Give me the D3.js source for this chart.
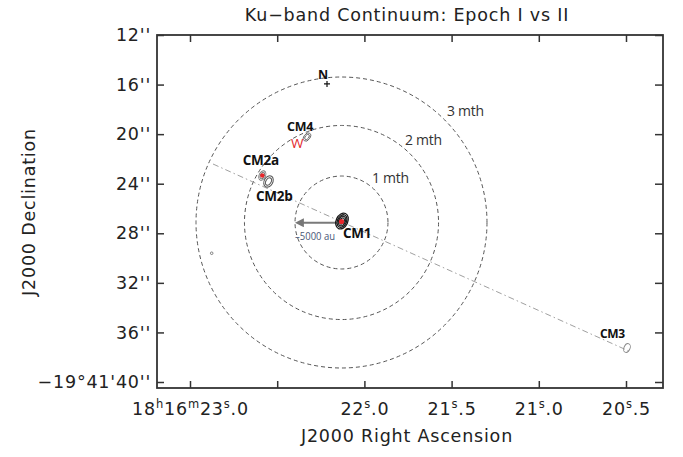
<!DOCTYPE html>
<html>
<head>
<meta charset="utf-8">
<script src="https://cdn.jsdelivr.net/npm/d3@7"></script>
<style>
  body { margin: 0; background: #fff; }
  svg text { fill: #222; }
</style>
</head>
<body>
<div id="chart"></div>
<script>
// RA in seconds (18h16m + s), Dec in arcsec (-19d41' - ")
const raTicks = [23.0, 22.5, 22.0, 21.5, 21.0, 20.5];
const raTickLabels = ["18^h16^m23^s.0", "", "22^s.0", "21^s.5", "21^s.0", "20^s.5"];
const decTicks = [12, 16, 20, 24, 28, 32, 36, 40];
const decTickLabels = ["12''", "16''", "20''", "24''", "28''", "32''", "36''", "\u221219\u00b041'40''"];

const sourceNames = ["CM1", "CM2a", "CM2b", "CM3", "CM4"];
const sourceRA = [22.1284, 22.5854, 22.5499, 20.4943, 22.3291];
const sourceDec = [27.01, 23.34, 23.82, 37.26, 20.23];

// light-travel rings around CM1 (arcsec)
const ringLabels = ["1 mth", "2 mth", "3 mth"];
const ringRadius = [3.75, 7.83, 11.74];
const ringCenterRA = 22.1313;
const ringCenterDec = 27.13;

// dash-dot axis through the sources
const axisLineRA = [22.8681, 20.4713];
const axisLineDec = [22.41, 37.58];

// proper motion arrow
const arrowRA = [22.157, 22.386];
const arrowDec = 27.15;

const northRA = 22.2144, northDec = 15.95;
const dotRA = 22.8756, dotDec = 29.61;

const width = 683, height = 457;
const frame = { left: 157, right: 663, top: 35, bottom: 388 };

const x = d3.scaleLinear().domain([23.0, 20.5]).range([190, 626]);
const y = d3.scaleLinear().domain([12, 40]).range([35, 382]);

const svg = d3.select('#chart').append('svg')
  .attr('width', width)
  .attr('height', height);

const axisFont = 'DejaVu Sans, sans-serif';
const axisSize = 17.5;
const axisSpacing = 0.8;
const labFont = 'Open Sans, Noto Sans, sans-serif';

// title
svg.append('text')
  .attr('x', 407).attr('y', 21)
  .attr('text-anchor', 'middle')
  .attr('font-family', axisFont)
  .attr('font-size', axisSize)
  .attr('letter-spacing', axisSpacing)
  .text('Ku\u2212band Continuum: Epoch I vs II');

// rings
ringRadius.forEach(r => {
  svg.append('circle')
    .attr('cx', x(ringCenterRA))
    .attr('cy', y(ringCenterDec))
    .attr('r', y(ringCenterDec + r) - y(ringCenterDec))
    .attr('fill', 'none')
    .attr('stroke', '#555')
    .attr('stroke-width', 1)
    .attr('stroke-dasharray', '4,3');
});

const ringLabelPos = [[372, 183], [405, 145], [447, 116]];
ringLabels.forEach((t, i) => {
  svg.append('text')
    .attr('x', ringLabelPos[i][0]).attr('y', ringLabelPos[i][1])
    .attr('font-family', labFont)
    .attr('font-size', 14)
    .attr('letter-spacing', -0.3)
    .style('fill', '#333')
    .text(t);
});

// dash-dot line
svg.append('line')
  .attr('x1', x(axisLineRA[0])).attr('y1', y(axisLineDec[0]))
  .attr('x2', x(axisLineRA[1])).attr('y2', y(axisLineDec[1]))
  .attr('stroke', '#a0a0a0')
  .attr('stroke-width', 1)
  .attr('stroke-dasharray', '6,3,1.5,3');

// arrow
svg.append('defs').append('marker')
  .attr('id', 'head')
  .attr('viewBox', '0 0 10 10')
  .attr('refX', 2).attr('refY', 5)
  .attr('markerWidth', 4.5).attr('markerHeight', 4.5)
  .attr('orient', 'auto')
  .append('path')
  .attr('d', 'M0,0L10,5L0,10z')
  .attr('fill', '#777');

svg.append('line')
  .attr('x1', x(arrowRA[0])).attr('y1', y(arrowDec))
  .attr('x2', x(arrowRA[1]) + 5).attr('y2', y(arrowDec))
  .attr('stroke', '#7a7a7a')
  .attr('stroke-width', 2)
  .attr('marker-end', 'url(#head)');

svg.append('text')
  .attr('x', x(arrowRA[1]) - 2).attr('y', 240)
  .attr('font-family', labFont)
  .attr('font-size', 10.5)
  .attr('textLength', 40)
  .attr('lengthAdjust', 'spacingAndGlyphs')
  .style('fill', '#4a5878')
  .text('\u20135000 au');

// contours
function contours(cx, cy, rings, rot, color, sw) {
  const g = svg.append('g').attr('transform', `translate(${cx},${cy}) rotate(${rot})`);
  rings.forEach(r => {
    g.append('ellipse')
      .attr('rx', r[0]).attr('ry', r[1])
      .attr('fill', 'none')
      .attr('stroke', color)
      .attr('stroke-width', sw);
  });
}

const px = sourceRA.map(d => x(d));
const py = sourceDec.map(d => y(d));

// CM1
contours(px[0], py[0], [[5.8, 8.3], [4.5, 6.6], [3.3, 5], [2.1, 3.3]], 25, '#1a1a1a', 1.3);
// CM2a
contours(px[1], py[1], [[3.2, 5], [2, 3.4]], 25, '#777', 0.9);
// CM2b
contours(px[2], py[2], [[4.3, 6], [2.6, 4]], 30, '#555', 1);
// CM3
contours(px[3], py[3], [[3, 4.6]], 25, '#888', 0.9);
// CM4
contours(px[4], py[4], [[3, 4.6], [1.8, 3]], 35, '#666', 0.9);

svg.append('circle').attr('cx', px[0] - 0.5).attr('cy', py[0] + 0.5).attr('r', 2.6).attr('fill', '#e8262a');
svg.append('circle').attr('cx', px[1]).attr('cy', py[1]).attr('r', 2.2).attr('fill', '#e8262a');

// small dot
svg.append('circle').attr('cx', x(dotRA)).attr('cy', y(dotDec)).attr('r', 1.3)
  .attr('fill', 'none').attr('stroke', '#666').attr('stroke-width', 0.8);

// source labels
const labelOffset = { CM1: [1, 17, 13.5], CM2a: [-19.5, -10.5, 13.5], CM2b: [-12.5, 19.5, 13.5], CM3: [-27, -10, 12], CM4: [-20, -6, 12.5] };
sourceNames.forEach((n, i) => {
  const o = labelOffset[n];
  svg.append('text')
    .attr('x', px[i] + o[0]).attr('y', py[i] + o[1])
    .attr('font-family', labFont)
    .attr('font-weight', 'bold')
    .attr('font-size', o[2])
    .attr('letter-spacing', -0.3)
    .style('fill', '#111')
    .text(n);
});

svg.append('text')
  .attr('x', px[4] - 16).attr('y', py[4] + 11)
  .attr('font-family', labFont)
  .attr('font-size', 13.5)
  .style('fill', '#e3262b')
  .text('W');

// north marker
const nx = x(northRA), ny = y(northDec);
svg.append('path')
  .attr('d', `M${nx - 3},${ny}H${nx + 3}M${nx},${ny - 3}V${ny + 3}`)
  .attr('stroke', '#111').attr('stroke-width', 1.2);
svg.append('text')
  .attr('x', nx - 9).attr('y', ny - 5)
  .attr('font-family', labFont)
  .attr('font-weight', 'bold')
  .attr('font-size', 12.5)
  .style('fill', '#111')
  .text('N');

// axes (ticks inside the frame)
const xb = svg.append('g').attr('transform', `translate(0,${frame.bottom})`)
  .call(d3.axisBottom(x).tickValues(raTicks).tickSize(-7).tickSizeOuter(0).tickFormat(''));
const xt = svg.append('g').attr('transform', `translate(0,${frame.top})`)
  .call(d3.axisTop(x).tickValues(raTicks).tickSize(-7).tickSizeOuter(0).tickFormat(''));
const yl = svg.append('g').attr('transform', `translate(${frame.left},0)`)
  .call(d3.axisLeft(y).tickValues(decTicks).tickSize(-7).tickSizeOuter(0).tickPadding(6)
    .tickFormat((d, i) => decTickLabels[i]));
const yr = svg.append('g').attr('transform', `translate(${frame.right},0)`)
  .call(d3.axisRight(y).tickValues(decTicks).tickSize(-8).tickSizeOuter(0).tickFormat(''));

[xb, xt, yl, yr].forEach(g => {
  g.select('.domain').remove();
  g.selectAll('.tick line').attr('stroke', '#333').attr('stroke-width', 1.5);
});

yl.selectAll('.tick text')
  .attr('font-family', axisFont)
  .attr('font-size', axisSize)
  .attr('letter-spacing', axisSpacing)
  .style('fill', '#222');

// RA tick labels with superscript units
xb.selectAll('.tick').each(function (d, i) {
  const label = raTickLabels[i];
  if (!label) return;
  const t = d3.select(this).append('text')
    .attr('y', 27)
    .attr('text-anchor', 'middle')
    .attr('font-family', axisFont)
    .attr('font-size', axisSize)
    .attr('letter-spacing', axisSpacing)
    .style('fill', '#222');
  const parts = label.split('^');
  t.append('tspan').text(parts[0]);
  parts.slice(1).forEach(p => {
    t.append('tspan').attr('dy', -7).attr('font-size', 11.5).text(p[0]);
    t.append('tspan').attr('dy', 7).text(p.slice(1));
  });
});

svg.append('rect')
  .attr('x', frame.left).attr('y', frame.top)
  .attr('width', frame.right - frame.left)
  .attr('height', frame.bottom - frame.top)
  .attr('fill', 'none')
  .attr('stroke', '#333')
  .attr('stroke-width', 1.8);

// axis titles
svg.append('text')
  .attr('x', 407).attr('y', 442)
  .attr('text-anchor', 'middle')
  .attr('font-family', axisFont)
  .attr('font-size', axisSize)
  .attr('letter-spacing', axisSpacing)
  .text('J2000 Right Ascension');

svg.append('text')
  .attr('transform', 'translate(35,212) rotate(-90)')
  .attr('text-anchor', 'middle')
  .attr('font-family', axisFont)
  .attr('font-size', axisSize)
  .attr('letter-spacing', axisSpacing)
  .text('J2000 Declination');
</script>
</body>
</html>
